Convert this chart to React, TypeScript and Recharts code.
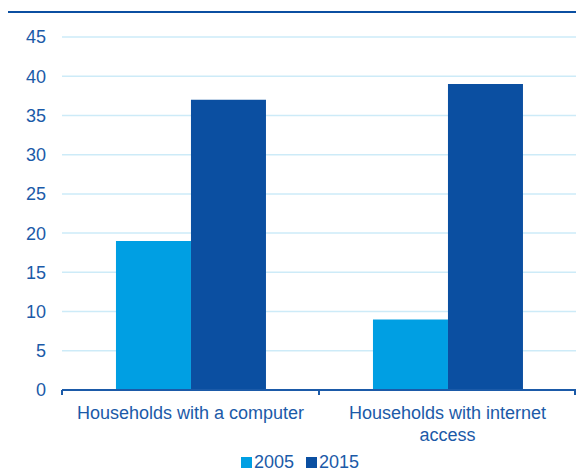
import { BarChart, Bar, XAxis, YAxis, CartesianGrid, Legend } from 'recharts';

const categories = ['Households with a computer', 'Households with internet access'];
const values2005 = [19, 9];
const values2015 = [37, 39];
const yTicks = [0, 5, 10, 15, 20, 25, 30, 35, 40, 45];

const LIGHT = '#009fe3';
const DARK = '#0b4fa1';
const TEXT = '#1b5aa8';
const GRID = '#cdebf8';
const FONT = "'Liberation Sans', Arial, sans-serif";

const data = categories.map((name, i) => ({
  name,
  y2005: values2005[i],
  y2015: values2015[i],
}));

// greedy word wrap by character count
function wrap(label: string, maxChars = 26) {
  const lines: string[] = [];
  let cur = '';
  label.split(' ').forEach((w) => {
    const next = cur ? cur + ' ' + w : w;
    if (next.length > maxChars && cur) {
      lines.push(cur);
      cur = w;
    } else {
      cur = next;
    }
  });
  if (cur) lines.push(cur);
  return lines;
}

// category label + boundary tick marks like the original
function CategoryTick(props: any) {
  const { x, y, payload, index } = props;
  const half = payload.offset || 0;
  const left = x - half;
  const right = x + half;
  const lines = wrap(String(payload.value));
  return (
    <g>
      <line x1={left} x2={left} y1={y - 8} y2={y - 3} stroke={TEXT} strokeWidth={2} />
      {index === categories.length - 1 && (
        <line x1={right - 1} x2={right - 1} y1={y - 8} y2={y - 3} stroke={TEXT} strokeWidth={2} />
      )}
      <text x={x} y={y + 21} textAnchor="middle" fill={TEXT} fontSize={18} fontFamily={FONT}>
        {lines.map((ln, i) => (
          <tspan key={i} x={x} dy={i === 0 ? 0 : 22}>
            {ln}
          </tspan>
        ))}
      </text>
    </g>
  );
}

function LegendBox() {
  const items = [
    { label: '2005', color: LIGHT },
    { label: '2015', color: DARK },
  ];
  return (
    <div style={{ display: 'flex', justifyContent: 'center', gap: 12, paddingLeft: 24, paddingTop: 3 }}>
      {items.map((it) => (
        <div key={it.label} style={{ display: 'flex', alignItems: 'center', gap: 2 }}>
          <span style={{ display: 'inline-block', width: 11, height: 11, background: it.color }} />
          <span style={{ color: TEXT, fontSize: 18, fontFamily: FONT, lineHeight: '22px' }}>
            {it.label}
          </span>
        </div>
      ))}
    </div>
  );
}

export default function App() {
  return (
    <div style={{ position: 'absolute', left: 0, top: 0, width: 576, height: 472, background: '#fff' }}>
      <div style={{ position: 'absolute', left: 8, top: 11, width: 568, height: 2, background: DARK }} />
      <BarChart
        width={576}
        height={472}
        data={data}
        margin={{ top: 37, right: 0, bottom: 0, left: 0 }}
        barCategoryGap="21%"
        barGap={0}
      >
        <CartesianGrid vertical={false} stroke={GRID} strokeWidth={1.5} />
        <XAxis
          dataKey="name"
          height={58}
          axisLine={{ stroke: TEXT, strokeWidth: 2 }}
          tickLine={false}
          interval={0}
          tick={<CategoryTick />}
        />
        <YAxis
          width={62}
          domain={[0, 45]}
          ticks={yTicks}
          axisLine={false}
          tickLine={false}
          tickMargin={10}
          tick={{ fill: TEXT, fontSize: 18, fontFamily: FONT }}
        />
        <Legend verticalAlign="bottom" height={24} content={<LegendBox />} />
        <Bar dataKey="y2005" fill={LIGHT} isAnimationActive={false} />
        <Bar dataKey="y2015" fill={DARK} isAnimationActive={false} />
      </BarChart>
    </div>
  );
}
